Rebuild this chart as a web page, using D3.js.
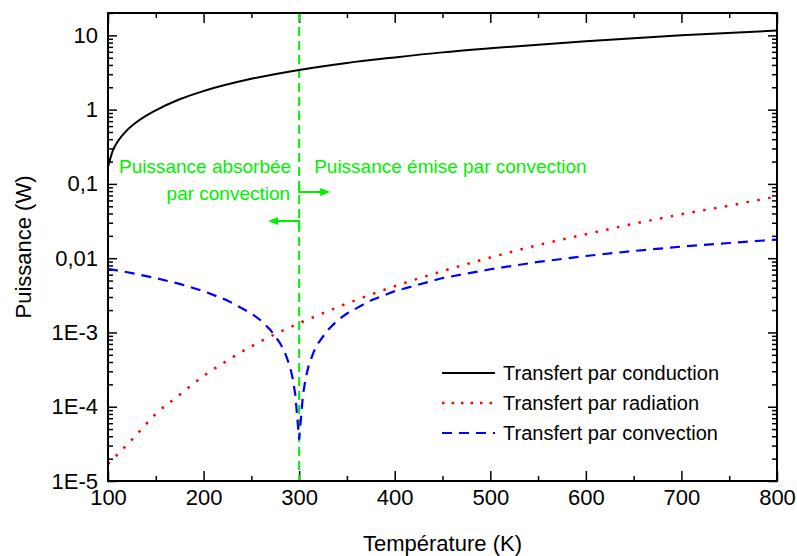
<!DOCTYPE html>
<html>
<head>
<meta charset="utf-8">
<script src="https://cdn.jsdelivr.net/npm/d3@7"></script>
<style>
body { margin: 0; background: #fff; }
svg { font-family: "Liberation Sans", Arial, sans-serif; }
.axis path { display: none; }
.axis line { stroke: #000; stroke-width: 1.5; }
.axis text { font-size: 22px; fill: #000; }
</style>
</head>
<body>
<div id="chart"></div>
<script>
// values
var condT = [100, 102, 105, 110, 115, 120, 130, 140, 150, 175, 200, 250, 300, 350, 400, 450, 500, 600, 700, 800]
var condP = [0.17, 0.21, 0.28, 0.37, 0.45, 0.53, 0.68, 0.83, 0.98, 1.38, 1.78, 2.6, 3.42, 4.25, 5.05, 5.9, 6.7, 8.35, 10.0, 11.6]

var radT = [100, 125, 150, 175, 200, 225, 250, 275, 300, 350, 400, 450, 500, 550, 600, 650, 700, 750, 800]
var radP = [1.7e-5, 3.6e-5, 8.0e-5, 1.45e-4, 2.6e-4, 4.2e-4, 6.5e-4, 9.5e-4, 1.33e-3, 2.45e-3, 4.2e-3, 6.7e-3, 1.02e-2, 1.5e-2, 2.1e-2, 2.9e-2, 3.9e-2, 5.1e-2, 6.8e-2]

var convT = [100, 125, 150, 175, 200, 225, 250, 260, 270, 280, 285, 290, 293, 296, 298, 300, 302, 304, 307, 310, 315, 320, 330, 340, 350, 375, 400, 450, 500, 550, 600, 650, 700, 750, 800]
var convP = [7.2e-3, 6.3e-3, 5.4e-3, 4.5e-3, 3.6e-3, 2.7e-3, 1.8e-3, 1.45e-3, 1.08e-3, 7.2e-4, 5.4e-4, 3.6e-4, 2.5e-4, 1.45e-4, 7.2e-5, 3.6e-5, 7.2e-5, 1.45e-4, 2.5e-4, 3.6e-4, 5.4e-4, 7.2e-4, 1.08e-3, 1.45e-3, 1.8e-3, 2.7e-3, 3.6e-3, 5.4e-3, 7.1e-3, 8.9e-3, 1.07e-2, 1.25e-2, 1.43e-2, 1.6e-2, 1.78e-2]

var xTicks = [100, 200, 300, 400, 500, 600, 700, 800]
var yTicks = [10, 1, 0.1, 0.01, 1e-3, 1e-4, 1e-5]
var yTickLabels = ["10", "1", "0,1", "0,01", "1E-3", "1E-4", "1E-5"]
var tRef = 300

var seriesNames = ["Transfert par conduction", "Transfert par radiation", "Transfert par convection"]

var width = 797, height = 556
var margin = {top: 13, right: 20, bottom: 75, left: 108}
var w = width - margin.left - margin.right,
	h = height - margin.top - margin.bottom

var svg = d3.select("#chart").append("svg")
	.attr("width", width)
	.attr("height", height)

var g = svg.append("g").attr("transform", "translate(" + margin.left + "," + margin.top + ")")

var x = d3.scaleLinear().domain([100, 800]).range([0, w])
var y = d3.scaleLog().domain([1e-5, 20]).range([h, 0])

var xMinor = d3.range(150, 800, 100)
var yMinor = []
for (var e = -5; e <= 1; e++) {
	for (var m = 2; m <= 9; m++) {
		var v = m * Math.pow(10, e)
		if (v <= 20) yMinor.push(v)
	}
}

// bottom + top
g.append("g").attr("class", "axis")
	.attr("transform", "translate(0," + h + ")")
	.call(d3.axisBottom(x).tickValues(xTicks).tickSize(-10).tickPadding(8).tickFormat(d3.format("d")))
g.append("g").attr("class", "axis")
	.attr("transform", "translate(0," + h + ")")
	.call(d3.axisBottom(x).tickValues(xMinor).tickSize(-5).tickFormat(""))
g.append("g").attr("class", "axis")
	.call(d3.axisTop(x).tickValues(xTicks).tickSize(-10).tickFormat(""))
g.append("g").attr("class", "axis")
	.call(d3.axisTop(x).tickValues(xMinor).tickSize(-5).tickFormat(""))

// left + right
g.append("g").attr("class", "axis")
	.call(d3.axisLeft(y).tickValues(yTicks).tickSize(-9).tickPadding(10)
		.tickFormat(function(d, i) { return yTickLabels[i] }))
g.append("g").attr("class", "axis")
	.call(d3.axisLeft(y).tickValues(yMinor).tickSize(-5).tickFormat(""))
g.append("g").attr("class", "axis")
	.attr("transform", "translate(" + w + ",0)")
	.call(d3.axisRight(y).tickValues(yTicks).tickSize(-9).tickFormat(""))
g.append("g").attr("class", "axis")
	.attr("transform", "translate(" + w + ",0)")
	.call(d3.axisRight(y).tickValues(yMinor).tickSize(-5).tickFormat(""))

var line = d3.line()
	.x(function(d) { return x(d[0]) })
	.y(function(d) { return y(d[1]) })

var smooth = d3.line()
	.curve(d3.curveMonotoneX)
	.x(function(d) { return x(d[0]) })
	.y(function(d) { return y(d[1]) })

var cond = d3.zip(condT, condP),
	rad = d3.zip(radT, radP),
	conv = d3.zip(convT, convP)

var green = "#00f000"

// reference line at 300 K
g.append("line")
	.attr("x1", x(tRef)).attr("x2", x(tRef))
	.attr("y1", 0).attr("y2", h)
	.attr("stroke", green)
	.attr("stroke-width", 2)
	.attr("stroke-dasharray", "9,5")

g.append("path").datum(rad)
	.attr("fill", "none")
	.attr("stroke", "#ff0000")
	.attr("stroke-width", 2.5)
	.attr("stroke-dasharray", "2.5,8.5")
	.attr("d", smooth)

g.append("path").datum(conv)
	.attr("fill", "none")
	.attr("stroke", "#0000ff")
	.attr("stroke-width", 2.2)
	.attr("stroke-dasharray", "10,7")
	.attr("d", line)

g.append("path").datum(cond)
	.attr("fill", "none")
	.attr("stroke", "#000")
	.attr("stroke-width", 2)
	.attr("d", smooth)

// frame
g.append("rect")
	.attr("width", w).attr("height", h)
	.attr("fill", "none")
	.attr("stroke", "#000")
	.attr("stroke-width", 2)

// annotations
var xr = x(tRef)
g.append("text")
	.attr("x", xr + 15).attr("y", 160)
	.attr("fill", green).style("font-size", "19px")
	.text("Puissance émise par convection")
g.append("text")
	.attr("x", xr - 8).attr("y", 160)
	.attr("text-anchor", "end")
	.attr("fill", green).style("font-size", "19px")
	.text("Puissance absorbée")
g.append("text")
	.attr("x", xr - 9).attr("y", 187)
	.attr("text-anchor", "end")
	.attr("fill", green).style("font-size", "19px")
	.text("par convection")

g.append("path")
	.attr("d", "M" + xr + ",171V179H" + (xr + 22))
	.attr("fill", "none").attr("stroke", green).attr("stroke-width", 2)
g.append("path")
	.attr("d", "M" + (xr + 31) + ",179L" + (xr + 21) + ",175L" + (xr + 21) + ",183Z")
	.attr("fill", green)
g.append("path")
	.attr("d", "M" + xr + ",215V208H" + (xr - 22))
	.attr("fill", "none").attr("stroke", green).attr("stroke-width", 2)
g.append("path")
	.attr("d", "M" + (xr - 31) + ",208L" + (xr - 21) + ",204L" + (xr - 21) + ",212Z")
	.attr("fill", green)

// legend
var legend = g.append("g").attr("transform", "translate(" + (442 - margin.left) + "," + (373 - margin.top) + ")")
var legStyles = [
	{stroke: "#000", dash: null, sw: 2},
	{stroke: "#ff0000", dash: "2.5,7", sw: 2.5},
	{stroke: "#0000ff", dash: "10,7", sw: 2.2}
]
seriesNames.forEach(function(name, i) {
	var row = legend.append("g").attr("transform", "translate(0," + (i * 30) + ")")
	row.append("line")
		.attr("x1", 0).attr("x2", 53)
		.attr("stroke", legStyles[i].stroke)
		.attr("stroke-width", legStyles[i].sw)
		.attr("stroke-dasharray", legStyles[i].dash)
	row.append("text")
		.attr("x", 61).attr("dy", "0.35em")
		.style("font-size", "20px")
		.text(name)
})

// axis titles
svg.append("text")
	.attr("x", margin.left + w / 2).attr("y", 551)
	.attr("text-anchor", "middle")
	.style("font-size", "22px")
	.text("Température (K)")

svg.append("text")
	.attr("transform", "translate(31," + (margin.top + h / 2) + ") rotate(-90)")
	.attr("text-anchor", "middle")
	.style("font-size", "22px")
	.text("Puissance (W)")
</script>
</body>
</html>
